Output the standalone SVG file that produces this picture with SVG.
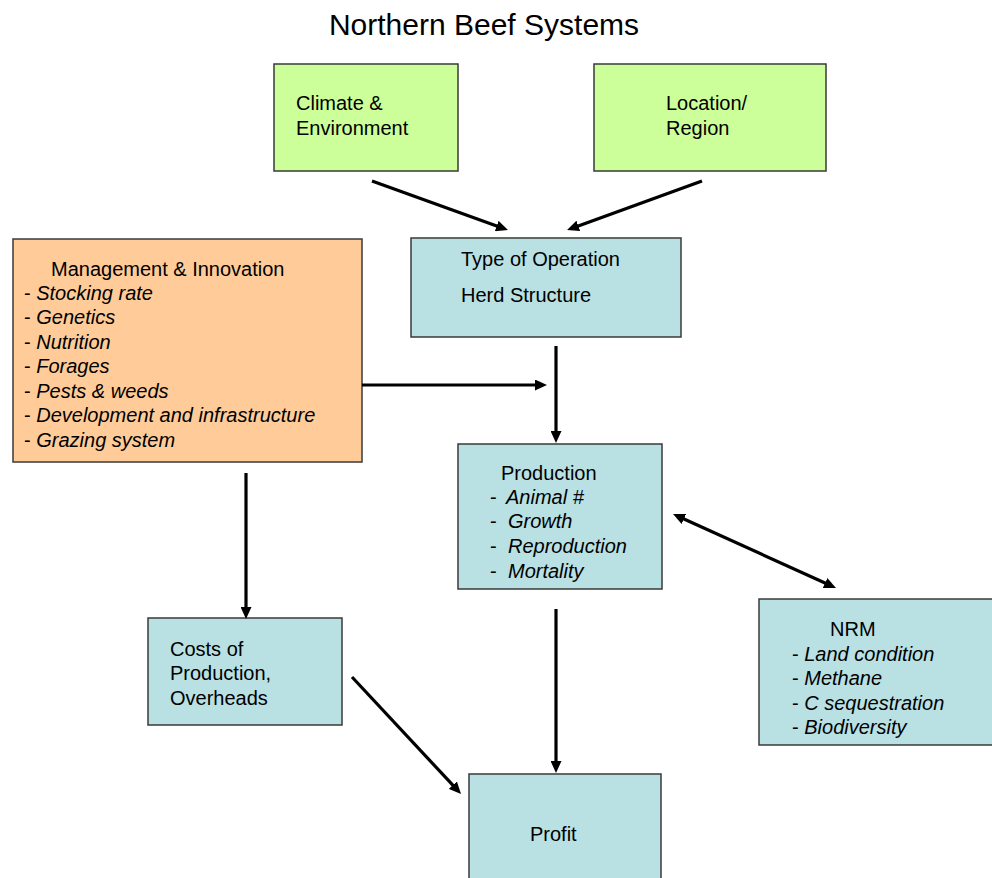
<svg xmlns="http://www.w3.org/2000/svg" width="992" height="878" viewBox="0 0 992 878">
<style>
  text { font-family: "Liberation Sans", Arial, sans-serif; font-size: 20px; fill: #000; }
  .title { font-size: 30px; }
  .it { font-style: italic; }
  .box { stroke: #3a3a3a; stroke-width: 1.5; }
  .green { fill: #ccff99; }
  .orange { fill: #ffcc99; }
  .blue { fill: #b9e0e3; }
  .conn line { stroke: #000; stroke-width: 3.2; fill: none; }
</style>
<defs>
  <marker id="ah" viewBox="0 0 12 11" refX="3" refY="5.5" markerWidth="12" markerHeight="11" markerUnits="userSpaceOnUse" orient="auto-start-reverse">
    <path d="M0,0 L12,5.5 L0,11 z" fill="#000"/>
  </marker>
</defs>
<rect width="992" height="878" fill="#fff"/>
<text class="title" x="484" y="35" text-anchor="middle">Northern Beef Systems</text>

<g id="climate">
  <rect class="box green" x="274" y="64" width="184" height="107"/>
  <text x="296" y="110">Climate &amp;</text>
  <text x="296" y="135">Environment</text>
</g>
<g id="location">
  <rect class="box green" x="594" y="64" width="232" height="107"/>
  <text x="666" y="110">Location/</text>
  <text x="666" y="135">Region</text>
</g>
<g id="type-of-operation">
  <rect class="box blue" x="411" y="238" width="270" height="99"/>
  <text x="461" y="266">Type of Operation</text>
  <text x="461" y="302">Herd Structure</text>
</g>
<g id="management">
  <rect class="box orange" x="13" y="239" width="349" height="223"/>
  <text x="51" y="276">Management &amp; Innovation</text>
  <text x="24" y="300">- <tspan class="it">Stocking rate</tspan></text>
  <text x="24" y="324">- <tspan class="it">Genetics</tspan></text>
  <text x="24" y="349">- <tspan class="it">Nutrition</tspan></text>
  <text x="24" y="373">- <tspan class="it">Forages</tspan></text>
  <text x="24" y="398">- <tspan class="it">Pests &amp; weeds</tspan></text>
  <text x="24" y="422">- <tspan class="it">Development and infrastructure</tspan></text>
  <text x="24" y="447">- <tspan class="it">Grazing system</tspan></text>
</g>
<g id="production">
  <rect class="box blue" x="458" y="444" width="204" height="145"/>
  <text x="501" y="480">Production</text>
  <text x="490" y="504">-</text><text class="it" x="506" y="504">Animal #</text>
  <text x="490" y="528">-</text><text class="it" x="508" y="528">Growth</text>
  <text x="490" y="553">-</text><text class="it" x="508" y="553">Reproduction</text>
  <text x="490" y="578">-</text><text class="it" x="508" y="578">Mortality</text>
</g>
<g id="nrm">
  <rect class="box blue" x="759" y="599" width="236" height="146"/>
  <text x="830" y="636">NRM</text>
  <text x="792" y="661">- <tspan class="it">Land condition</tspan></text>
  <text x="792" y="685">- <tspan class="it">Methane</tspan></text>
  <text x="792" y="710">- <tspan class="it">C sequestration</tspan></text>
  <text x="792" y="734">- <tspan class="it">Biodiversity</tspan></text>
</g>
<g id="costs">
  <rect class="box blue" x="148" y="618" width="194" height="107"/>
  <text x="170" y="656">Costs of</text>
  <text x="170" y="680">Production,</text>
  <text x="170" y="705">Overheads</text>
</g>
<g id="profit">
  <rect class="box blue" x="469" y="774" width="192" height="110"/>
  <text x="530" y="841">Profit</text>
</g>

<g id="connectors" class="conn">
  <line x1="372" y1="181" x2="499.5" y2="227" marker-end="url(#ah)"/>
  <line x1="702" y1="181" x2="575.5" y2="226.9" marker-end="url(#ah)"/>
  <line x1="362" y1="385" x2="538" y2="385" marker-end="url(#ah)"/>
  <line x1="556" y1="346" x2="556" y2="434" marker-end="url(#ah)"/>
  <line x1="681.2" y1="517.7" x2="827.8" y2="584.3" marker-start="url(#ah)" marker-end="url(#ah)"/>
  <line x1="556" y1="609" x2="556" y2="764" marker-end="url(#ah)"/>
  <line x1="246" y1="473" x2="246" y2="610" marker-end="url(#ah)"/>
  <line x1="352" y1="677" x2="454.9" y2="787.4" marker-end="url(#ah)"/>
</g>
</svg>
